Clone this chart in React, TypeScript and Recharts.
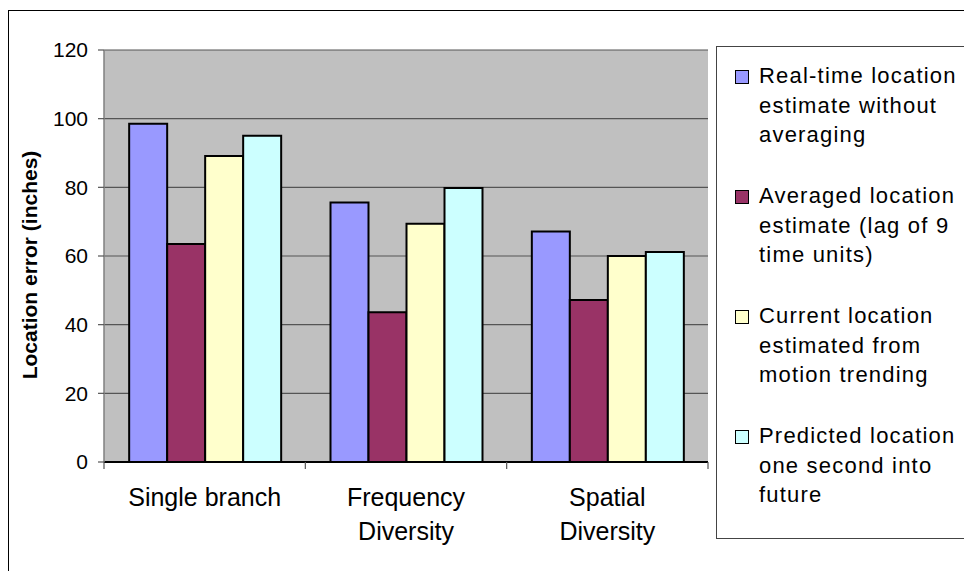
import React from "react";
import { BarChart, Bar, XAxis, YAxis, CartesianGrid, Label } from "recharts";

// 値はグラフから読み取り
const categories = ["Single branch", "Frequency\nDiversity", "Spatial\nDiversity"];
const realTime = [98.5, 75.6, 67.1];
const averaged = [63.5, 43.6, 47.2];
const trending = [89.1, 69.4, 60.0];
const predicted = [95.0, 79.8, 61.2];
const yTicks = [0, 20, 40, 60, 80, 100, 120];

const seriesKeys = ["realTime", "averaged", "trending", "predicted"];
const seriesColors = ["#9999FF", "#993366", "#FFFFCC", "#CCFFFF"];
const legendLines = [
  ["Real-time location", "estimate without", "averaging"],
  ["Averaged location", "estimate (lag of 9", "time units)"],
  ["Current location", "estimated from", "motion trending"],
  ["Predicted location", "one second into", "future"],
];

const W = 964;
const H = 571;
const PLOT_LEFT = 104;
const PLOT_RIGHT = 708;
const PLOT_TOP = 50;
const PLOT_BOTTOM = 462;
const X_AXIS_H = 60;
const PLOT_W = PLOT_RIGHT - PLOT_LEFT;
const FONT = '"Liberation Sans", Arial, Helvetica, sans-serif';

const chartData = categories.map((name, i) => ({
  name,
  realTime: realTime[i],
  averaged: averaged[i],
  trending: trending[i],
  predicted: predicted[i],
}));

const CategoryTick = (props: any) => {
  const { x, y, payload, index } = props;
  const lines = String(payload.value).split("\n");
  const half = PLOT_W / categories.length / 2;
  return (
    <g>
      {index === 0 && (
        <line x1={x - half} x2={x - half} y1={y} y2={y + 7} stroke="#555" strokeWidth={1.2} />
      )}
      <line x1={x + half} x2={x + half} y1={y} y2={y + 7} stroke="#555" strokeWidth={1.2} />
      <text x={x} y={y + 44} textAnchor="middle" fontSize={25} fill="#000" fontFamily={FONT}>
        {lines.map((l, i) => (
          <tspan key={i} x={x} dy={i === 0 ? 0 : 34}>
            {l}
          </tspan>
        ))}
      </text>
    </g>
  );
};

const YLabel = (props: any) => {
  const vb = props.viewBox || { x: 0, y: PLOT_TOP, height: PLOT_BOTTOM - PLOT_TOP };
  const cx = vb.x + 29;
  const cy = vb.y + vb.height / 2 + 9;
  return (
    <text
      x={cx}
      y={cy}
      transform={`rotate(-90 ${cx} ${cy})`}
      textAnchor="middle"
      dominantBaseline="central"
      fontSize={21}
      fontWeight="bold"
      fill="#000"
      fontFamily={FONT}
    >
      Location error (inches)
    </text>
  );
};

export default function App() {
  return (
    <div
      style={{
        position: "absolute",
        left: 0,
        top: 0,
        width: W,
        height: H,
        background: "#fff",
        overflow: "hidden",
        fontFamily: FONT,
      }}
    >
      {/* 外枠（上と左だけ見えている） */}
      <div
        style={{
          position: "absolute",
          left: 8,
          top: 10,
          width: W,
          height: H,
          borderTop: "1.5px solid #000",
          borderLeft: "1.5px solid #000",
        }}
      />
      <div style={{ position: "absolute", left: 0, top: 0 }}>
        <BarChart
          width={W}
          height={H}
          data={chartData}
          margin={{ top: PLOT_TOP, right: W - PLOT_RIGHT, bottom: H - PLOT_BOTTOM - X_AXIS_H, left: 0 }}
          barGap={0}
          barCategoryGap="12.5%"
        >
          <CartesianGrid fill="#C0C0C0" vertical={false} stroke="#555" strokeWidth={1.2} />
          <XAxis
            dataKey="name"
            height={X_AXIS_H}
            interval={0}
            tickLine={false}
            tickSize={0}
            tickMargin={0}
            tick={<CategoryTick />}
            axisLine={{ stroke: "#000", strokeWidth: 2 }}
          />
          <YAxis
            width={PLOT_LEFT}
            domain={[0, 120]}
            ticks={yTicks}
            interval={0}
            tickSize={6}
            tickMargin={10}
            tickLine={{ stroke: "#555", strokeWidth: 1.2 }}
            axisLine={{ stroke: "#808080", strokeWidth: 1.5 }}
            tick={{ fontSize: 21, fill: "#000", fontFamily: FONT }}
          >
            <Label content={<YLabel />} />
          </YAxis>
          <YAxis
            yAxisId="frame"
            orientation="right"
            width={0}
            tick={false}
            tickLine={false}
            axisLine={{ stroke: "#808080", strokeWidth: 1.5 }}
          />
          {seriesKeys.map((k, i) => (
            <Bar
              key={k}
              dataKey={k}
              fill={seriesColors[i]}
              stroke="#000"
              strokeWidth={2}
              isAnimationActive={false}
            />
          ))}
        </BarChart>
      </div>
      {/* 凡例 */}
      <div
        style={{
          position: "absolute",
          left: 716,
          top: 46,
          width: 300,
          height: 493,
          border: "1.5px solid #444",
          boxSizing: "border-box",
        }}
      >
        {legendLines.map((lines, i) => (
          <div
            key={i}
            style={{ position: "absolute", left: 0, top: 14 + i * 120, width: 280 }}
          >
            <div
              style={{
                position: "absolute",
                left: 18,
                top: 9,
                width: 12,
                height: 12,
                background: seriesColors[i],
                border: "1.5px solid #000",
              }}
            />
            <div
              style={{
                position: "absolute",
                left: 42,
                top: 0,
                fontSize: 22,
                lineHeight: "29.5px",
                letterSpacing: 1.2,
                color: "#000",
                whiteSpace: "nowrap",
              }}
            >
              {lines.map((l, j) => (
                <div key={j}>{l}</div>
              ))}
            </div>
          </div>
        ))}
      </div>
    </div>
  );
}
